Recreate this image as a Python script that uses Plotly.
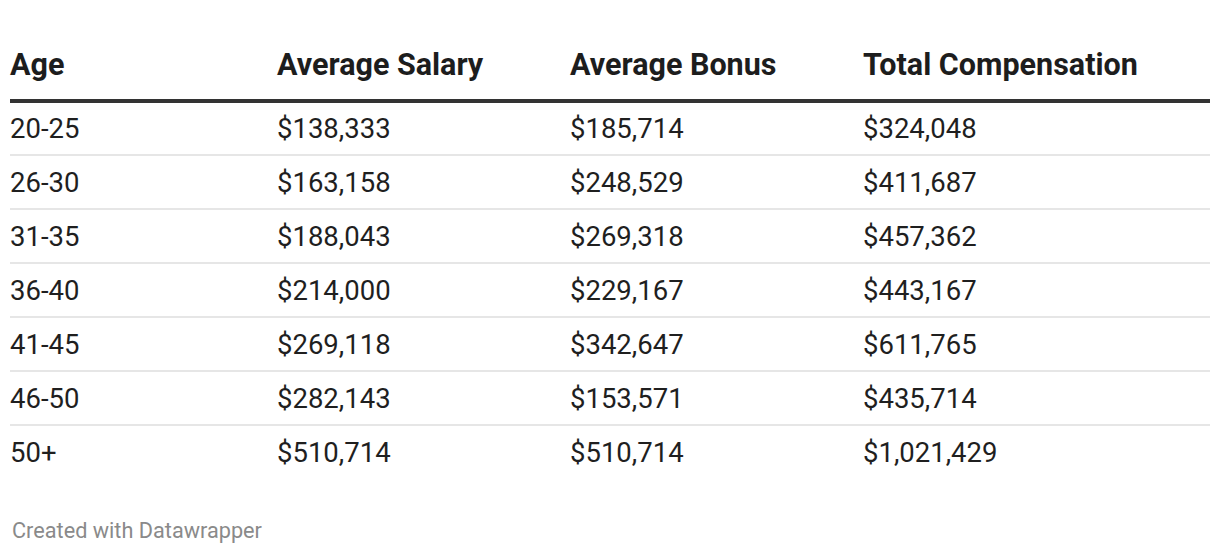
import plotly.graph_objects as go

# Table contents
headers = ["Age", "Average Salary", "Average Bonus", "Total Compensation"]
ages = ["20-25", "26-30", "31-35", "36-40", "41-45", "46-50", "50+"]
avg_salary = [138333, 163158, 188043, 214000, 269118, 282143, 510714]
avg_bonus = [185714, 248529, 269318, 229167, 342647, 153571, 510714]
total_comp = [324048, 411687, 457362, 443167, 611765, 435714, 1021429]
footer = "Created with Datawrapper"

W, H = 1220, 554
OFF = 8                           # page body margin in the browser
col_x = [10, 277, 570, 863]      # left edge of each column (page px)
text_dx = -1.5                    # annotation inner padding correction
row_h = 54                        # px per body row
first_row = 128                   # page px centre of first body row
header_y = 64                     # page px centre of header text

FONT = "Roboto, 'Open Sans', sans-serif"


def money(v):
    return f"${v:,.0f}"


columns = [ages,
           [money(v) for v in avg_salary],
           [money(v) for v in avg_bonus],
           [money(v) for v in total_comp]]

fig = go.Figure()

annotations = []
# header row (y in row units, -ve above first row)
hy = (header_y - first_row) / row_h
for x, h in zip(col_x, headers):
    annotations.append(dict(
        x=x + text_dx, y=hy, xref="x", yref="y", text=f"<b>{h}</b>",
        xanchor="left", yanchor="middle", showarrow=False, borderpad=0,
        font=dict(family=FONT, size=30.5, color="#1d1d1d"),
    ))

for x, col in zip(col_x, columns):
    for i, txt in enumerate(col):
        annotations.append(dict(
            x=x + text_dx, y=i, xref="x", yref="y", text=txt,
            xanchor="left", yanchor="middle", showarrow=False, borderpad=0,
            font=dict(family=FONT, size=27.5, color="#1f1f1f"),
        ))

annotations.append(dict(
    x=(10 - OFF) / W, y=1 - (530 - OFF) / H, xref="paper", yref="paper",
    text=footer, xanchor="left", yanchor="middle", showarrow=False,
    font=dict(family=FONT, size=21.7, color="#8a8a8a"),
))

shapes = [dict(type="line", xref="x", yref="y", x0=10, x1=1210, y0=-0.5, y1=-0.5,
               line=dict(color="#333333", width=4))]
for i in range(len(ages) - 1):
    shapes.append(dict(type="line", xref="x", yref="y", x0=10, x1=1210,
                       y0=i + 0.5, y1=i + 0.5,
                       line=dict(color="#e6e6e6", width=2)))

top = first_row - OFF
fig.update_layout(
    width=W, height=H,
    margin=dict(l=0, r=0, t=0, b=0),
    paper_bgcolor="white", plot_bgcolor="white",
    xaxis=dict(range=[OFF, W + OFF], visible=False, fixedrange=True),
    yaxis=dict(range=[(H - top) / row_h, -top / row_h],
               visible=False, fixedrange=True),
    annotations=annotations,
    shapes=shapes,
    showlegend=False,
)

fig.write_html("out.html", config={"displayModeBar": False})
